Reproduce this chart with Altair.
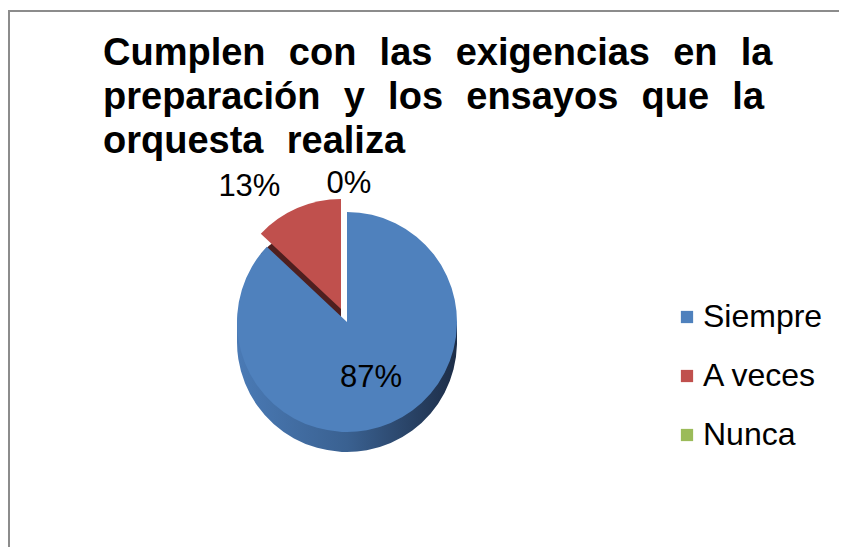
import altair as alt
import pandas as pd

# ---- data ----
categories = ["Siempre", "A veces", "Nunca"]
values = [87, 13, 0]
labels = ["87%", "13%", "0%"]
legend_colors = ["#4f81bd", "#c0504d", "#9bbb59"]
title_lines = [
    "Cumplen con las exigencias en la",
    "preparación y los ensayos que la",
    "orquesta realiza",
]

# ---- styling ----
FONT = "Liberation Sans"
GAPS = [" \u2005\u200a", " \u2004", " \u2004"]   # widened word gaps (justified look)
CX, CY, R, DEPTH = 339, 312, 110, 20
EX, EY = -6, -13           # explode offset of the "A veces" slice

df = pd.DataFrame({"Category": categories, "Value": values,
                   "Label": labels, "Order": list(range(len(categories)))})

base = (
    alt.Chart(df)
    .transform_window(cum="sum(Value)", sort=[alt.SortField("Order")])
    .transform_calculate(start="datum.cum - datum.Value",
                         mid="datum.cum - datum.Value / 2")
)

theta_scale = alt.Scale(domain=[0, 100])
theta = alt.Theta("start:Q", scale=theta_scale)
theta2 = alt.Theta2("cum:Q")
color = alt.Color(
    "Category:N",
    scale=alt.Scale(domain=categories, range=legend_colors),
    legend=alt.Legend(
        title=None, orient="none", legendX=663, legendY=291,
        symbolType="square", symbolSize=150, symbolStrokeWidth=0,
        labelFont=FONT, labelFontSize=32, labelColor="black",
        labelOffset=0, rowPadding=27, padding=0,
    ),
)

is_red = alt.datum.Category == "A veces"
not_red = alt.datum.Category != "A veces"

frame_df = pd.DataFrame({"k": [0]})
frame_top = alt.Chart(frame_df).mark_rule(stroke="#8c8c8c", strokeWidth=2).encode(
    x=alt.value(0), x2=alt.value(3000), y=alt.value(1))
frame_left = alt.Chart(frame_df).mark_rule(stroke="#8c8c8c", strokeWidth=2).encode(
    x=alt.value(1), y=alt.value(0), y2=alt.value(3000))

side_grad = alt.LinearGradient(
    gradient="linear", x1=0, x2=1, y1=0, y2=0,
    stops=[alt.GradientStop(color="#4a7ab5", offset=0),
           alt.GradientStop(color="#3a6191", offset=0.5),
           alt.GradientStop(color="#1d2d47", offset=1)],
)

red_side = base.transform_filter(is_red).mark_arc(
    outerRadius=R, color="#4f1f1f"
).encode(theta=theta, theta2=theta2,
         x=alt.value(CX + EX), y=alt.value(CY + EY + DEPTH))

red_top = base.transform_filter(is_red).mark_arc(
    outerRadius=R
).encode(theta=theta, theta2=theta2, color=color,
         x=alt.value(CX + EX), y=alt.value(CY + EY))

blue_side_rect = alt.Chart(frame_df).mark_rect(color=side_grad).encode(
    x=alt.value(CX - R), x2=alt.value(CX + R),
    y=alt.value(CY), y2=alt.value(CY + DEPTH))

blue_side = base.transform_filter(not_red).mark_arc(
    outerRadius=R, color=side_grad
).encode(theta=theta, theta2=theta2,
         x=alt.value(CX), y=alt.value(CY + DEPTH))

blue_top = base.transform_filter(not_red).mark_arc(
    outerRadius=R
).encode(theta=theta, theta2=theta2, color=color,
         x=alt.value(CX), y=alt.value(CY))

text_props = dict(font=FONT, fontSize=31, color="black")

lab_in = base.transform_filter(alt.datum.Category == "Siempre").mark_text(
    radius=R * 0.55, **text_props
).encode(theta=alt.Theta("mid:Q", scale=theta_scale), text="Label:N",
         x=alt.value(CX), y=alt.value(CY))

lab_red = base.transform_filter(is_red).mark_text(
    radius=R + 30, dx=-36, dy=6, **text_props
).encode(theta=alt.Theta("mid:Q", scale=theta_scale), text="Label:N",
         x=alt.value(CX + EX), y=alt.value(CY + EY))

lab_zero = base.transform_filter(alt.datum.Category == "Nunca").mark_text(
    radius=R + 30, dx=2, dy=2, **text_props
).encode(theta=alt.Theta("mid:Q", scale=theta_scale), text="Label:N",
         x=alt.value(CX), y=alt.value(CY))

chart = (
    alt.layer(frame_top, frame_left, red_side, red_top, blue_side_rect,
              blue_side, blue_top, lab_in, lab_red, lab_zero)
    .properties(
        width=831, height=537,
        autosize=alt.AutoSizeParams(type="none"),
        padding={"left": 0, "top": 2, "right": 0, "bottom": 0},
        title=alt.Title(
            text=[line.replace(" ", g) for line, g in zip(title_lines, GAPS)],
            anchor="start", frame="group", orient="top",
            offset=-152, dx=95, baseline="top",
            font=FONT, fontSize=38, fontWeight="bold", color="black",
            lineHeight=44,
        ),
    )
    .configure_view(stroke="transparent", strokeWidth=0)
    .configure(background="white")
)

chart.save("out.html", embed_options={"renderer": "svg", "actions": False})
